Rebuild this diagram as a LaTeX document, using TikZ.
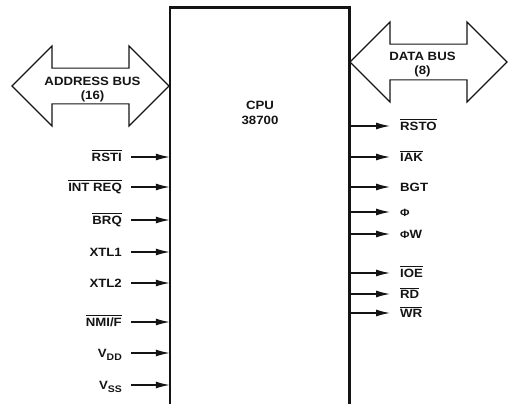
\documentclass[tikz,border=0pt]{standalone}
\usepackage{fontspec}
\setmainfont[FakeStretch=1.1]{Liberation Sans}
\usepackage{tikz}
\usetikzlibrary{positioning,shapes.arrows,arrows.meta}
\definecolor{ink}{HTML}{141414}
\tikzset{
  % --- CPU block outline (open at the bottom) ---
  chip/.style={minimum width=179pt, minimum height=396pt, inner sep=0pt},
  chipline/.style={draw=ink, line width=2.6pt},
  chiptext/.style={font=\bfseries\fontsize{12}{15}\selectfont, text=ink,
                   align=center, inner sep=0pt},
  % --- bus arrows ---
  bus/.style={double arrow, draw=ink, line width=1.1pt,
              double arrow head extend=15.5pt, double arrow tip angle=90,
              minimum width=80pt, minimum height=157pt, inner sep=0pt,
              text width=80pt, text height=14pt, text depth=10pt},
  bustext/.style={chiptext, font=\bfseries\fontsize{12}{14.5}\selectfont},
  % --- pin labels and pin arrows ---
  pinlbl/.style={font=\bfseries\fontsize{12}{14}\selectfont, text=ink,
                 inner sep=0pt, text height=8.6pt, text depth=0pt},
  pinin/.style={-{Latex[length=14pt,width=7pt]}, line width=1.3pt,
                draw=ink, shorten <=9pt},
  pinout/.style={-{Latex[length=14pt,width=7pt]}, line width=1.3pt,
                 draw=ink, shorten >=10pt},
}
\newcommand{\ovl}[1]{\leavevmode\vbox{\hrule height 0.9pt\kern 1.6pt\hbox{#1}}}
\newcommand{\clk}{{\fontsize{10.5}{11}\selectfont Φ}}
\newcommand{\supply}[1]{V\raisebox{-3.2pt}{\fontsize{9.5}{10}\selectfont #1}}

\begin{document}
\begin{tikzpicture}[x=1pt, y=-1pt]
  \useasboundingbox (0,0) rectangle (510,404);

  % --- CPU block ---
  \node[chip] (cpu) at (259.5,206) {};
  \draw[chipline] (cpu.south west) -- (cpu.north west)
                  -- (cpu.north east) -- (cpu.south east);
  \node[chiptext] (cpuname) at (260,113) {CPU\\38700};

  % --- buses ---
  \node[bus, anchor=east] (abus) at (cpu.west |- 0,86) {};
  \node[bus, anchor=west] (dbus) at (cpu.east |- 0,62) {};
  \node[bustext] (abusname) at ([xshift=2pt,yshift=-3.5pt]abus.center)
        {ADDRESS BUS\\(16)};
  \node[bustext] (dbusname) at ([xshift=-6pt,yshift=-2.5pt]dbus.center)
        {DATA BUS\\(8)};

  % --- inputs (left) ---
  \node[pinlbl, anchor=east] (rsti)   at (122,157) {\ovl{RSTI}};
  \node[pinlbl, anchor=east] (intreq) at (122,187) {\ovl{INT REQ}};
  \node[pinlbl, anchor=east] (brq)    at (122,220) {\ovl{BRQ}};
  \node[pinlbl, anchor=east] (xtla)   at (122,252) {XTL1};
  \node[pinlbl, anchor=east] (xtlb)   at (122,283) {XTL2};
  \node[pinlbl, anchor=east] (nmi)    at (122,322) {\ovl{NMI/F}};
  \node[pinlbl, anchor=east] (vdd)    at (122,353) {\supply{DD}};
  \node[pinlbl, anchor=east] (vss)    at (122,385) {\supply{SS}};

  % --- outputs (right) ---
  \node[pinlbl, anchor=west] (rsto) at (400,126) {\ovl{RSTO}};
  \node[pinlbl, anchor=west] (iak)  at (400,157) {\ovl{IAK}};
  \node[pinlbl, anchor=west] (bgt)  at (400,187) {BGT};
  \node[pinlbl, anchor=west] (phi)  at (400,212) {\clk};
  \node[pinlbl, anchor=west] (phiw) at (400,234) {\clk W};
  \node[pinlbl, anchor=west] (ioe)  at (400,273) {\ovl{IOE}};
  \node[pinlbl, anchor=west] (rd)   at (400,294) {\ovl{RD}};
  \node[pinlbl, anchor=west] (wr)   at (400,313) {\ovl{WR}};

  % --- pin arrows ---
  \foreach \n in {rsti,intreq,brq,xtla,xtlb,nmi,vdd,vss}
      \draw[pinin] (\n.east) -- (\n -| cpu.west);
  \foreach \n in {rsto,iak,bgt,phi,phiw,ioe,rd,wr}
      \draw[pinout] (\n -| cpu.east) -- (\n.west);
\end{tikzpicture}
\end{document}
